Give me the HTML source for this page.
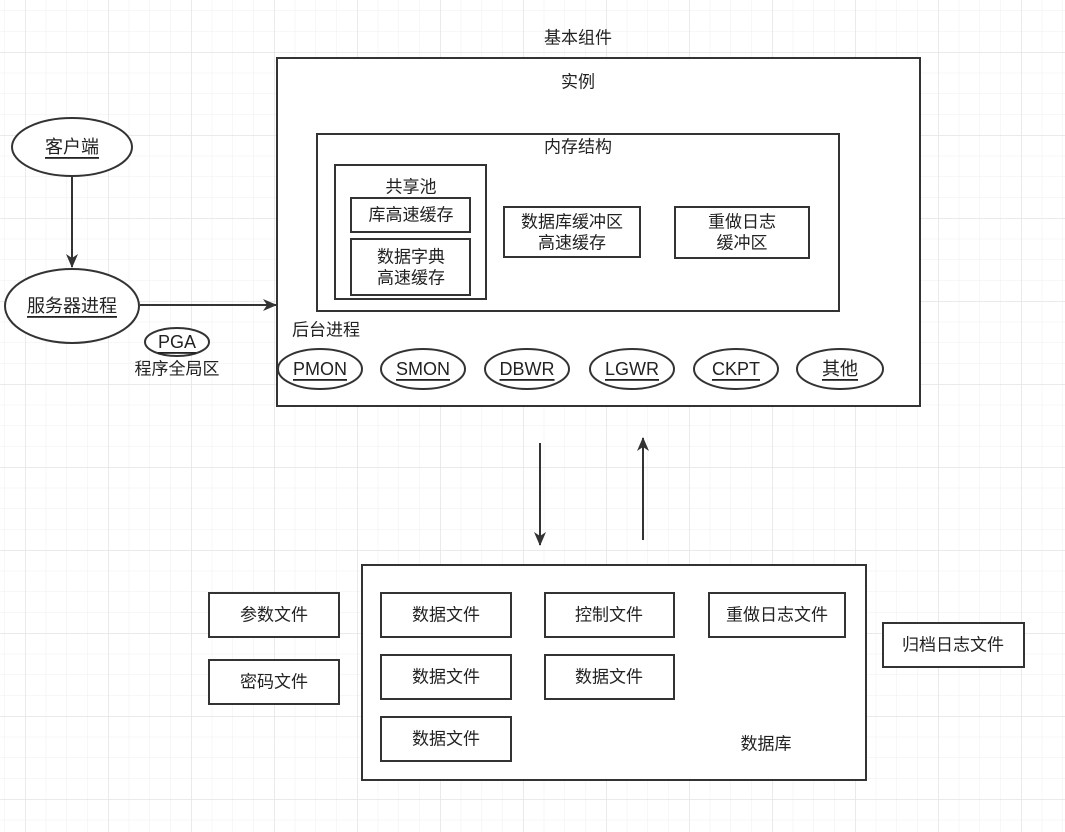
<!DOCTYPE html>
<html><head><meta charset="utf-8"><style>
html,body{margin:0;padding:0;background:#fff}
svg{display:block}
text{font-family:"Liberation Sans","Noto Sans CJK SC",sans-serif;font-size:17px;fill:#222;text-anchor:middle;dominant-baseline:central}
.u{text-decoration:underline;font-size:18px}
</style></head><body>
<svg width="1065" height="832" viewBox="0 0 1065 832" xmlns="http://www.w3.org/2000/svg">
<defs>
<pattern id="g" x="25" y="52" width="20.75" height="20.75" patternUnits="userSpaceOnUse"><path d="M0 0H20.75M0 0V20.75" stroke="#efefef" stroke-width="1" fill="none"/></pattern>
<pattern id="G" x="25" y="52" width="83" height="83" patternUnits="userSpaceOnUse"><path d="M0 0H83M0 0V83" stroke="#e4e4e4" stroke-width="1.5" fill="none"/></pattern>
<marker id="a" markerWidth="14" markerHeight="14" refX="13" refY="6" orient="auto" markerUnits="userSpaceOnUse"><path d="M0 0L14 6L0 12L4 6Z" fill="#333"/></marker>
</defs>
<rect width="1065" height="832" fill="url(#g)"/>
<rect width="1065" height="832" fill="url(#G)"/>
<g fill="#fff" stroke="#333" stroke-width="2">
<rect x="277" y="58" width="643" height="348"/>
<rect x="317" y="134" width="522" height="177"/>
<rect x="335" y="165" width="151" height="134"/>
<rect x="351" y="198" width="119" height="34"/>
<rect x="351" y="239" width="119" height="56"/>
<rect x="504" y="207" width="136" height="50"/>
<rect x="675" y="207" width="134" height="51"/>
<ellipse cx="320" cy="369" rx="42" ry="20"/>
<ellipse cx="423" cy="369" rx="42" ry="20"/>
<ellipse cx="527" cy="369" rx="42" ry="20"/>
<ellipse cx="632" cy="369" rx="42" ry="20"/>
<ellipse cx="736" cy="369" rx="42" ry="20"/>
<ellipse cx="840" cy="369" rx="43" ry="20"/>
<ellipse cx="72" cy="147" rx="60" ry="29"/>
<ellipse cx="72" cy="306" rx="67" ry="37"/>
<ellipse cx="177" cy="342" rx="32" ry="14"/>
<rect x="362" y="565" width="504" height="215"/>
<rect x="381" y="593" width="130" height="44"/>
<rect x="545" y="593" width="129" height="44"/>
<rect x="709" y="593" width="136" height="44"/>
<rect x="381" y="655" width="130" height="44"/>
<rect x="545" y="655" width="129" height="44"/>
<rect x="381" y="717" width="130" height="44"/>
<rect x="209" y="593" width="130" height="44"/>
<rect x="209" y="660" width="130" height="44"/>
<rect x="883" y="623" width="141" height="44"/>
</g>
<g stroke="#333" stroke-width="2" fill="none">
<path d="M72 176V267" marker-end="url(#a)"/>
<path d="M140 305H276" marker-end="url(#a)"/>
<path d="M540 443V545" marker-end="url(#a)"/>
<path d="M643 540V438" marker-end="url(#a)"/>
</g>
<text x="578" y="38">基本组件</text>
<text x="578" y="82">实例</text>
<text x="578" y="147">内存结构</text>
<text x="411" y="187">共享池</text>
<text x="411" y="215">库高速缓存</text>
<text x="411" y="257">数据字典</text>
<text x="411" y="278">高速缓存</text>
<text x="572" y="222">数据库缓冲区</text>
<text x="572" y="243">高速缓存</text>
<text x="742" y="222">重做日志</text>
<text x="742" y="243">缓冲区</text>
<text x="326" y="330">后台进程</text>
<text class="u" x="320" y="369">PMON</text>
<text class="u" x="423" y="369">SMON</text>
<text class="u" x="527" y="369">DBWR</text>
<text class="u" x="632" y="369">LGWR</text>
<text class="u" x="736" y="369">CKPT</text>
<text class="u" x="840" y="369">其他</text>
<text class="u" x="72" y="147">客户端</text>
<text class="u" x="72" y="306">服务器进程</text>
<text class="u" x="177" y="342">PGA</text>
<text x="177" y="369">程序全局区</text>
<text x="446" y="615">数据文件</text>
<text x="609" y="615">控制文件</text>
<text x="777" y="615">重做日志文件</text>
<text x="446" y="677">数据文件</text>
<text x="609" y="677">数据文件</text>
<text x="446" y="739">数据文件</text>
<text x="766" y="744">数据库</text>
<text x="274" y="615">参数文件</text>
<text x="274" y="682">密码文件</text>
<text x="953" y="645">归档日志文件</text>
</svg>
</body></html>
